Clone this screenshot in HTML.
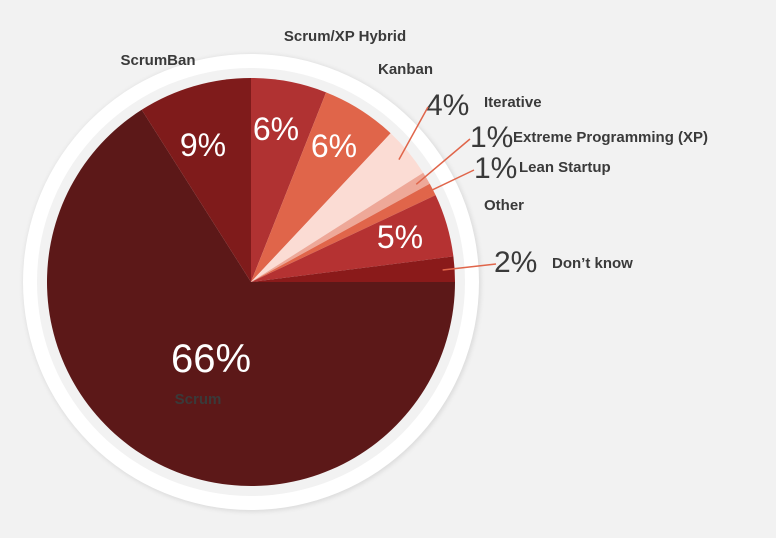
<!DOCTYPE html>
<html><head><meta charset="utf-8"><style>
body{margin:0;background:#f2f2f2;}
svg{display:block;font-family:"Liberation Sans",sans-serif;}
.lbl{font-weight:bold;font-size:15px;fill:#3a3a3a;}
.pct{font-size:32px;fill:#fff;}
.pcto{font-size:30px;fill:#3a3a3a;}
</style></head><body>
<svg id="chart" width="776" height="538" viewBox="0 0 776 538">
<defs><filter id="sh" x="-20%" y="-20%" width="140%" height="140%"><feGaussianBlur stdDeviation="2"/></filter></defs>
<circle cx="252" cy="283" r="229" fill="#dcdcdc" filter="url(#sh)"/>
<circle cx="251" cy="282" r="228" fill="#fff"/>
<circle cx="251" cy="282" r="214" fill="#f2f2f2"/>
<g id="slices"></g>
<g id="labels"></g>
</svg>
<script>
const categories=["Scrum/XP Hybrid","Kanban","Iterative","Extreme Programming (XP)","Lean Startup","Other","Don’t know","Scrum","ScrumBan"];
const values=[6,6,4,1,1,5,2,66,9];
const colors=["#b03232","#e0654a","#fbdcd4","#eea898","#e0654a","#b53232","#8a1a1a","#5c1818","#7f1b1b"];
const cx=251,cy=282,r=204;
const ns="http://www.w3.org/2000/svg";
const total=values.reduce((a,b)=>a+b,0);
function pt(a,rr){return [cx+rr*Math.sin(a),cy-rr*Math.cos(a)];}
const sg=document.getElementById('slices'),lg=document.getElementById('labels');
let acc=0;const mids=[];
values.forEach((v,i)=>{
 const a0=acc/total*2*Math.PI;acc+=v;const a1=acc/total*2*Math.PI;
 mids.push((a0+a1)/2);
 const p0=pt(a0,r),p1=pt(a1,r);
 const p=document.createElementNS(ns,'path');
 p.setAttribute('d',`M${cx},${cy}L${p0[0]},${p0[1]}A${r},${r} 0 ${a1-a0>Math.PI?1:0} 1 ${p1[0]},${p1[1]}Z`);
 p.setAttribute('fill',colors[i]);
 
 
 sg.appendChild(p);
});
function txt(x,y,s,c,anchor){const t=document.createElementNS(ns,'text');t.setAttribute('x',x);t.setAttribute('y',y);t.setAttribute('class',c);if(anchor)t.setAttribute('text-anchor',anchor);t.textContent=s;
 
 
 lg.appendChild(t);return t;}
function line(x1,y1,x2,y2){const l=document.createElementNS(ns,'line');l.setAttribute('x1',x1);l.setAttribute('y1',y1);l.setAttribute('x2',x2);l.setAttribute('y2',y2);l.setAttribute('stroke','#e0654a');l.setAttribute('stroke-width','1.5');
 
 
 lg.appendChild(l);}
// inside labels
const inside={0:[276,140],1:[334,157],5:[400,248],7:[211,372],8:[203,156]};
Object.keys(inside).forEach(k=>{const [x,y]=inside[k];const t=txt(x,y,values[k]+'%','pct','middle');if(k==7)t.style.fontSize='40px';});
txt(198,404,'Scrum','lbl','middle');
txt(158,65,'ScrumBan','lbl','middle');
txt(345,41,'Scrum/XP Hybrid','lbl','middle');
txt(378,74,'Kanban','lbl');
txt(484,210,'Other','lbl');
// outside labels
const outside=[[2,426,115,484,107],[3,470,147,513,142],[4,474,178,519,172],[6,494,272,552,268]];
outside.forEach(([i,tx,ty,lx,ly])=>{
 const e=pt(mids[i],r-12);
 txt(tx,ty,values[i]+'%','pcto');
 line(e[0],e[1],tx+(values[i]<2?0:2),ty-8);
 txt(lx,ly,categories[i],'lbl');
});
</script>
</body></html>
